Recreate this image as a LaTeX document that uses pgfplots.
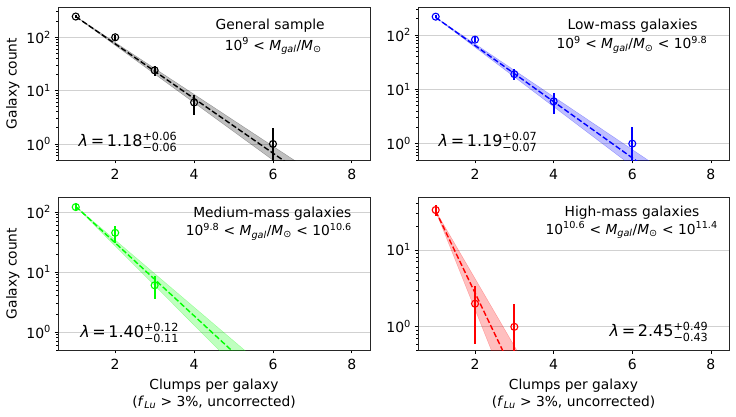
\documentclass[border=0pt]{standalone}
\usepackage{pgfplots}
\pgfplotsset{compat=1.18}
\usepackage{fontspec}
\usepackage{amsmath}
\setmainfont{DejaVu Sans}
\definecolor{lime}{rgb}{0,1,0}
\definecolor{gridgray}{rgb}{0.82,0.82,0.82}
\newcommand{\myfs}{\fontsize{13.8}{16.3}\selectfont}
\newcommand{\myft}{\fontsize{14}{16}\selectfont}
\newcommand{\myfl}{\fontsize{16}{18}\selectfont}
\pgfplotsset{
  every axis/.append style={
    scale only axis, height=153pt,
    xmin=0.55, xmax=8.46, ymin=0.5,
    xtick={2,4,6,8}, xticklabels={2,4,6,8},
    minor ytick={0.5,0.6,0.7,0.8,0.9,2,3,4,5,6,7,8,9,20,30,40,50,60,70,80,90,200,300},
    tick pos=left, tick align=outside,
    major tick length=3.5pt, minor tick length=2pt,
    ymajorgrids, grid style={gridgray, line width=0.8pt},
    axis line style={line width=0.8pt, black!85},
    tick style={black, line width=0.8pt},
    every tick label/.append style={font=\myft},
    xticklabel style={yshift=-2.5pt},
    every axis label/.append style={font=\myfs},
    xlabel style={align=center, yshift=-2.5pt},
  },
}
\begin{document}
\begin{tikzpicture}
\path (0,0) rectangle (736pt,416pt);

% ---------------- General sample
\begin{axis}[ymode=log, width=312pt, at={(58pt,256pt)}, anchor=south west, ymax=370, ylabel={Galaxy count},
  ytick={1,10,100}, yticklabels={10\textsuperscript{0},10\textsuperscript{1},10\textsuperscript{2}}]
\addplot[draw=black, draw opacity=0.3, fill=black, fill opacity=0.25] coordinates {(1,245) (8,0.0965) (8,0.0416) (1,245)};
\addplot[black, dash pattern=on 5.5pt off 2.4pt, line width=1.4pt] coordinates {(1,245) (8,0.0634)};
\addplot[black, only marks, mark=o, mark size=3.5pt, mark options={line width=1.1pt, fill=none},
  error bars/.cd, y dir=both, y explicit, error mark=none, error bar style={line width=1.9pt}] coordinates {
 (1,245) +- (0,15.7)
 (2,100) +- (0,10)
 (3,24) +- (0,4.9)
 (4,6) +- (0,2.45)
 (6,1) += (0,1) -= (0,0.99)};
\node[font=\myfs] at (rel axis cs:0.68,0.88) {General sample};
\node[font=\myfs] at (rel axis cs:0.69,0.745) {10\textsuperscript{9} < \textit{M}$_{\text{\textit{gal}}}$/\textit{M}$_{\text{⊙}}$};
\node[font=\myfl, anchor=west] at (rel axis cs:0.055,0.12) {\textit{λ}\,=\,1.18$^{\text{+0.06}}_{\text{−0.06}}$};
\end{axis}

% ---------------- Low-mass
\begin{axis}[ymode=log, width=311pt, at={(418pt,256pt)}, anchor=south west, ymax=327,
  ytick={1,10,100}, yticklabels={10\textsuperscript{0},10\textsuperscript{1},10\textsuperscript{2}}]
\addplot[draw=blue, draw opacity=0.3, fill=blue, fill opacity=0.25] coordinates {(1,210) (8,0.0827) (8,0.0309) (1,210)};
\addplot[blue, dash pattern=on 5.5pt off 2.4pt, line width=1.4pt] coordinates {(1,210) (8,0.0507)};
\addplot[blue, only marks, mark=o, mark size=3.5pt, mark options={line width=1.1pt, fill=none},
  error bars/.cd, y dir=both, y explicit, error mark=none, error bar style={line width=1.9pt}] coordinates {
 (1,217) +- (0,14.7)
 (2,82) +- (0,9.06)
 (3,19) +- (0,4.36)
 (4,6) +- (0,2.45)
 (6,1) += (0,1) -= (0,0.99)};
\node[font=\myfs] at (rel axis cs:0.69,0.88) {Low-mass galaxies};
\node[font=\myfs] at (rel axis cs:0.688,0.752) {10\textsuperscript{9} < \textit{M}$_{\text{\textit{gal}}}$/\textit{M}$_{\text{⊙}}$ < 10\textsuperscript{9.8}};
\node[font=\myfl, anchor=west] at (rel axis cs:0.055,0.12) {\textit{λ}\,=\,1.19$^{\text{+0.07}}_{\text{−0.07}}$};
\end{axis}

% ---------------- Medium-mass
\begin{axis}[ymode=log, width=312pt, at={(58pt,66pt)}, anchor=south west, ymax=178, ylabel={Galaxy count},
  ytick={1,10,100}, yticklabels={10\textsuperscript{0},10\textsuperscript{1},10\textsuperscript{2}},
  xlabel={Clumps per galaxy\\(\textit{f}$_{\text{\textit{Lu}}}$ > 3\%, uncorrected)}]
\addplot[draw=lime, draw opacity=0.3, fill=lime, fill opacity=0.25] coordinates {(1,124) (7,0.0540) (7,0.01363) (1,124)};
\addplot[lime, dash pattern=on 5.5pt off 2.4pt, line width=1.4pt] coordinates {(1,124) (7,0.0279)};
\addplot[lime, only marks, mark=o, mark size=3.5pt, mark options={line width=1.1pt, fill=none},
  error bars/.cd, y dir=both, y explicit, error mark=none, error bar style={line width=1.9pt}] coordinates {
 (1,121) += (0,20) -= (0,18)
 (2,45) += (0,13.5) -= (0,14)
 (3,6) +- (0,2.45)};
\node[font=\myfs] at (rel axis cs:0.687,0.893) {Medium-mass galaxies};
\node[font=\myfs] at (rel axis cs:0.676,0.773) {10\textsuperscript{9.8} < \textit{M}$_{\text{\textit{gal}}}$/\textit{M}$_{\text{⊙}}$ < 10\textsuperscript{10.6}};
\node[font=\myfl, anchor=west] at (rel axis cs:0.06,0.111) {\textit{λ}\,=\,1.40$^{\text{+0.12}}_{\text{−0.11}}$};
\end{axis}

% ---------------- High-mass
\begin{axis}[ymode=log, width=311pt, at={(418pt,66pt)}, anchor=south west, ymax=48.7,
  ytick={1,10}, yticklabels={10\textsuperscript{0},10\textsuperscript{1}},
  xlabel={Clumps per galaxy\\(\textit{f}$_{\text{\textit{Lu}}}$ > 3\%, uncorrected)}]
\addplot[draw=red, draw opacity=0.3, fill=red, fill opacity=0.25] coordinates {(1,32) (4,0.0747) (4,0.0047) (1,32)};
\addplot[red, dash pattern=on 5.5pt off 2.4pt, line width=1.4pt] coordinates {(1,32) (4,0.0206)};
\addplot[red, only marks, mark=o, mark size=3.5pt, mark options={line width=1.1pt, fill=none},
  error bars/.cd, y dir=both, y explicit, error mark=none, error bar style={line width=1.9pt}] coordinates {
 (1,33) +- (0,5.74)
 (2,2) +- (0,1.41)
 (3,1) += (0,1) -= (0,0.99)};
\node[font=\myfs] at (rel axis cs:0.688,0.895) {High-mass galaxies};
\node[font=\myfs] at (rel axis cs:0.687,0.784) {10\textsuperscript{10.6} < \textit{M}$_{\text{\textit{gal}}}$/\textit{M}$_{\text{⊙}}$ < 10\textsuperscript{11.4}};
\node[font=\myfl, anchor=east] at (rel axis cs:0.945,0.12) {\textit{λ}\,=\,2.45$^{\text{+0.49}}_{\text{−0.43}}$};
\end{axis}
\end{tikzpicture}
\end{document}
